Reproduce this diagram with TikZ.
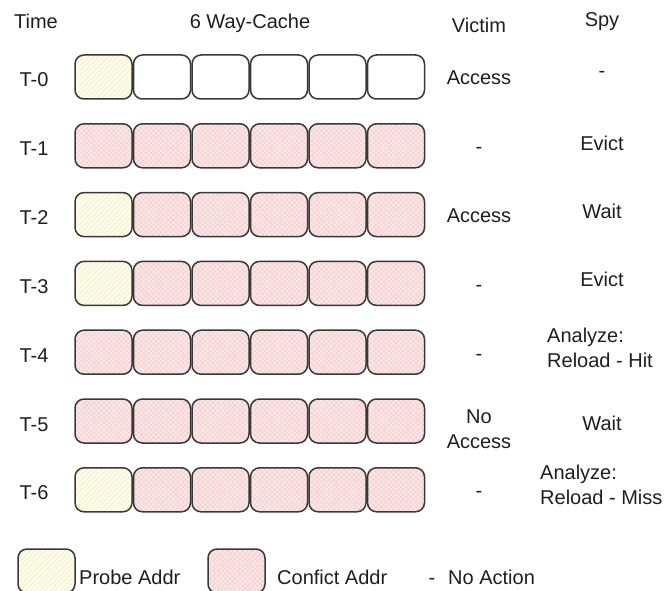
\documentclass[tikz,border=0pt]{standalone}
\usepackage{fontspec}
\setmainfont{Liberation Sans}
\usetikzlibrary{patterns.meta}
\definecolor{ink}{HTML}{1E1E1E}
\definecolor{edge}{HTML}{383838}
\definecolor{probefill}{HTML}{FEFCEB}
\definecolor{probehatch}{HTML}{F1EAC2}
\definecolor{confill}{HTML}{FCE8E8}
\definecolor{conhatch}{HTML}{F4C6C6}

\begin{document}
\begin{tikzpicture}[x=1pt,y=-1pt,
  cell/.style={draw=edge, line width=1.5pt, rounded corners=9pt,
    minimum width=57pt, minimum height=44pt, inner sep=0pt, outer sep=0pt},
  probe/.style={cell, preaction={fill=probefill},
    pattern={Lines[angle=45,distance=3.5pt,line width=0.5pt]}, pattern color=probehatch},
  conflict/.style={cell, preaction={fill=confill},
    pattern={Hatch[angle=45,distance=3.5pt,line width=0.4pt]}, pattern color=conhatch},
  blank/.style={cell, fill=white},
  lbl/.style={font=\fontsize{20}{25}\selectfont, text=ink, inner sep=0pt, anchor=base},
  multi/.style={font=\fontsize{20}{25}\selectfont, text=ink, inner sep=0pt}
]
\useasboundingbox (0,0) rectangle (665,591);

% column headers
\node[lbl] (hTime)   at (36,29)  {Time};
\node[lbl] (hCache)  at (250,29) {6 Way-Cache};
\node[lbl] (hVictim) at (479,33) {Victim};
\node[lbl] (hSpy)    at (602,27) {Spy};

% cache rows: first way, then the remaining five ways
\foreach \r/\a/\b in {0/probe/blank, 1/conflict/conflict, 2/probe/conflict,
                      3/probe/conflict, 4/conflict/conflict, 5/conflict/conflict,
                      6/probe/conflict}{
  \node[\a] (c\r-0) at (103.5,{77+68.8*\r}) {};
  \foreach \j in {1,...,5}
    \node[\b] (c\r-\j) at ({103.5+58.5*\j},{77+68.8*\r}) {};
  \node[lbl] (t\r) at (34,{77+68.8*\r+10}) {T-\r};
}

% victim column
\node[lbl] (v0) at (479,85)    {Access};
\node[lbl] (v1) at (479,153.8) {-};
\node[lbl] (v2) at (479,222.6) {Access};
\node[lbl] (v3) at (479,291.4) {-};
\node[lbl] (v4) at (479,360.2) {-};
\node[multi, align=center] (v5) at (479,429.5) {No\\Access};
\node[lbl] (v6) at (479,497.8) {-};

% spy column
\node[lbl] (s0) at (602,78)    {-};
\node[lbl] (s1) at (602,150.5) {Evict};
\node[lbl] (s2) at (602,218.5) {Wait};
\node[lbl] (s3) at (602,287)   {Evict};
\node[multi, align=left, anchor=west] (s4) at (547,348) {Analyze:\\Reload - Hit};
\node[lbl] (s5) at (602,430)   {Wait};
\node[multi, align=left, anchor=west] (s6) at (540,485) {Analyze:\\Reload - Miss};

% legend
\node[probe]    (lp) at (46.5,571)  {};
\node[lbl, anchor=base west] (lpt) at (79,584)  {Probe Addr};
\node[conflict] (lc) at (236.5,571) {};
\node[lbl, anchor=base west] (lct) at (277,584) {Confict Addr};
\node[lbl] (ld) at (432,584) {-};
\node[lbl, anchor=base west] (ldt) at (448,584) {No Action};
\end{tikzpicture}
\end{document}
